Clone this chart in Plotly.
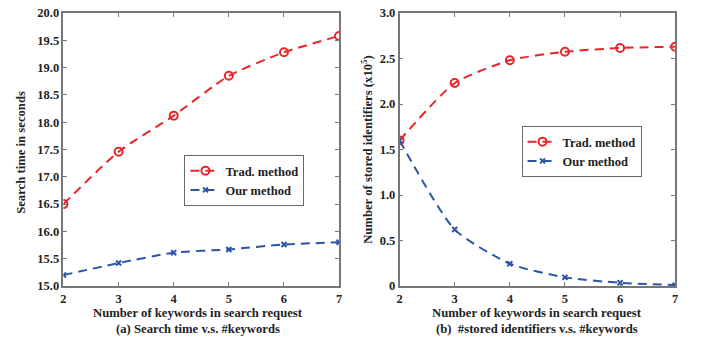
import plotly.graph_objects as go

keywords = [2, 3, 4, 5, 6, 7]
trad_time = [16.5, 17.46, 18.12, 18.85, 19.28, 19.58]
our_time = [15.2, 15.42, 15.61, 15.67, 15.76, 15.8]
trad_ids = [1.6, 2.23, 2.48, 2.575, 2.615, 2.63]
our_ids = [1.6, 0.62, 0.245, 0.095, 0.035, 0.01]

y1_ticks = [15.0, 15.5, 16.0, 16.5, 17.0, 17.5, 18.0, 18.5, 19.0, 19.5, 20.0]
y2_ticks = [0, 0.5, 1.0, 1.5, 2.0, 2.5, 3.0]
y2_labels = ["0", "0.5", "1.0", "1.5", "2.0", "2.5", "3.0"]

RED = "#e8262b"
BLUE = "#2b55a6"
FONT = "Liberation Serif, Times New Roman, serif"

TOP, BOT = 13, 286
def py(ypx):
    return (BOT - ypx) / (BOT - TOP)

fig = go.Figure()

def add(x, y, name, color, sym, size, xa, ya, leg):
    fig.add_trace(go.Scatter(
        x=x, y=y, name=name, mode="lines+markers",
        line=dict(color=color, width=2, dash="9px,6px", shape="spline", smoothing=0.6),
        marker=dict(symbol=sym, size=size, color=color, line=dict(color=color, width=2)),
        xaxis=xa, yaxis=ya, legend=leg, showlegend=True))

add(keywords, trad_time, "Trad. method", RED, "circle-open", 8, "x", "y", "legend")
add(keywords, our_time, "Our method", BLUE, "x-thin-open", 5, "x", "y", "legend")
add(keywords, trad_ids, "Trad. method", RED, "circle-open", 8, "x2", "y2", "legend2")
add(keywords, our_ids, "Our method", BLUE, "x-thin-open", 5, "x2", "y2", "legend2")

tickfont_bold = dict(family=FONT, size=12.5, color="#222", weight="bold")
axis_common = dict(
    showline=True, linecolor="#777", linewidth=1.5, mirror="allticks",
    ticks="inside", ticklen=4, tickcolor="#777", showgrid=False, zeroline=False,
    tickfont=tickfont_bold,
)

legend_font = dict(family=FONT, size=12.5, color="#222", weight="bold")
fig.update_layout(
    width=701, height=337,
    margin=dict(l=0, r=0, t=TOP, b=337 - BOT),
    paper_bgcolor="white", plot_bgcolor="white",
    font=dict(family=FONT, color="#222"),
    xaxis=dict(domain=[61/701, 339/701], range=[2, 7], tickvals=keywords, anchor="y", **axis_common),
    yaxis=dict(domain=[0, 1], range=[15, 20], tickvals=y1_ticks,
               ticktext=[f"{v:.1f}" for v in y1_ticks], anchor="x", **axis_common),
    xaxis2=dict(domain=[400/701, 678/701], range=[2, 7], tickvals=keywords, anchor="y2", **axis_common),
    yaxis2=dict(domain=[0, 1], range=[0, 3], tickvals=y2_ticks, ticktext=y2_labels, anchor="x2", **axis_common),
    legend=dict(x=183/701, y=py(155), xanchor="left", yanchor="top",
                bordercolor="#666", borderwidth=1, bgcolor="white",
                font=legend_font, tracegroupgap=0, itemwidth=30),
    legend2=dict(x=523/701, y=py(126), xanchor="left", yanchor="top",
                 bordercolor="#666", borderwidth=1, bgcolor="white",
                 font=legend_font, tracegroupgap=0, itemwidth=30),
)

ann_font = dict(family=FONT, size=12.7, color="#222", weight="bold")
anns = [
    (197/701, 312.5, "Number of keywords in search request"),
    (197/701, 329, "(a) Search time v.s. #keywords"),
    (539/701, 312.5, "Number of keywords in search request"),
    (539/701, 329, "(b)  #stored identifiers v.s. #keywords"),
]
for x, ypx, t in anns:
    fig.add_annotation(x=x, y=py(ypx), xref="paper", yref="paper", text=t,
                       showarrow=False, font=ann_font, xanchor="center", yanchor="middle")

fig.add_annotation(x=18/701, y=py(152), xref="paper", yref="paper", text="Search time in seconds",
                   textangle=-90, showarrow=False, font=ann_font, xanchor="center", yanchor="middle")
fig.add_annotation(x=367/701, y=py(149), xref="paper", yref="paper",
                   text="Number of stored identifiers (x10<sup>5</sup>)",
                   textangle=-90, showarrow=False, font=ann_font, xanchor="center", yanchor="middle")

fig.write_html("out.html", post_script="document.body.style.margin='0';",
               config={"displayModeBar": False})
